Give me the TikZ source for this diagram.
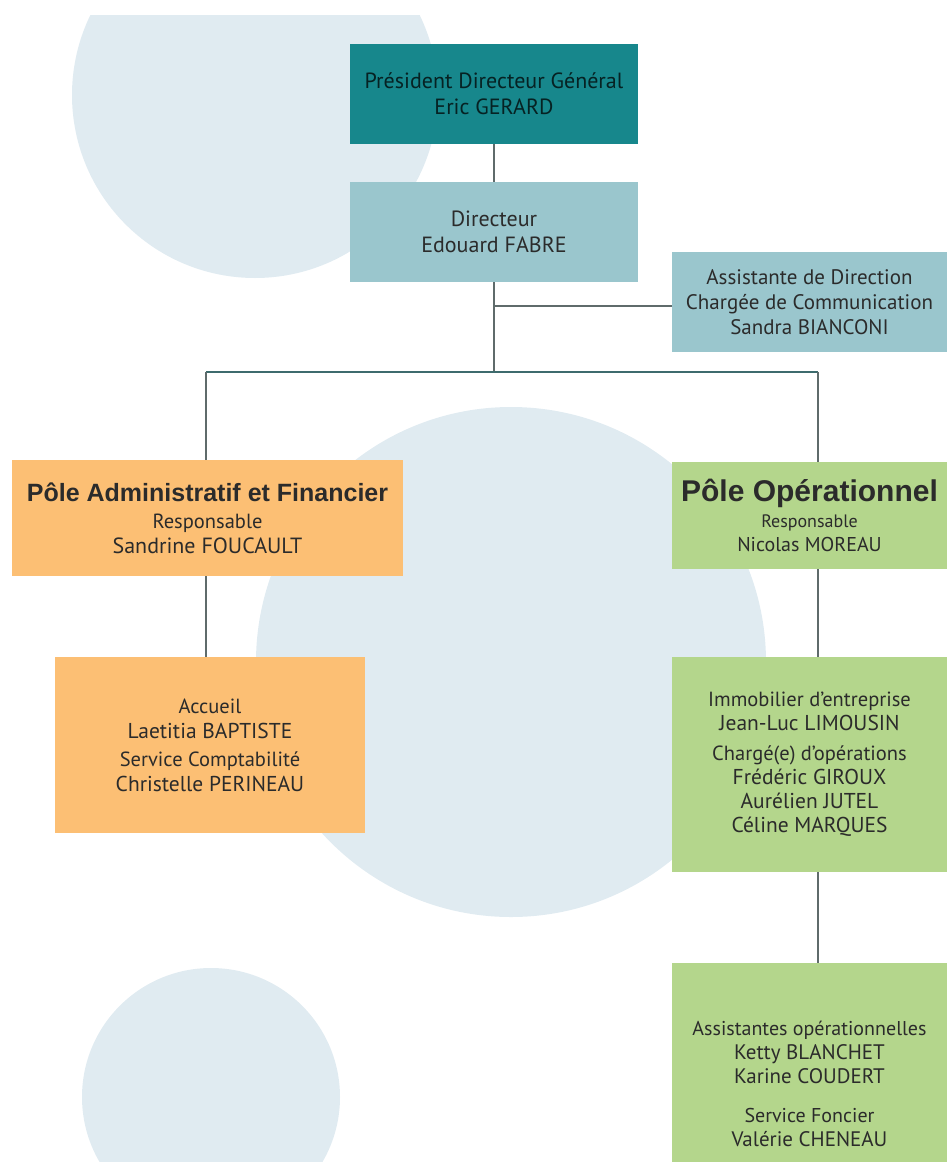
\documentclass[tikz,border=0pt]{standalone}
\usepackage{fontspec}
\setmainfont{PT Sans}
\newfontfamily\headfont{Liberation Sans}
\usepackage{xcolor}
\usetikzlibrary{positioning,calc}

\definecolor{pdgteal}{HTML}{17878C}
\definecolor{dirblue}{HTML}{9AC6CD}
\definecolor{admorange}{HTML}{FCBF74}
\definecolor{opgreen}{HTML}{B4D68C}
\definecolor{bgcircle}{HTML}{E0EBF1}
\definecolor{linkgray}{HTML}{5F6B6B}
\definecolor{bustteal}{HTML}{3D6B6D}
\definecolor{inktext}{HTML}{2B2B2B}

\newcommand{\fs}[2]{\fontsize{#1}{#2}\selectfont}

\begin{document}
\begin{tikzpicture}[
    x=1pt, y=-1pt,
    box/.style={inner sep=0pt, align=center, text=inktext,
        font=\fs{21}{25}},
    pdgbox/.style={box, fill=pdgteal, text=black!75!pdgteal,
        minimum width=288, minimum height=100, font=\fs{22}{26}},
    dirbox/.style={box, fill=dirblue, minimum height=100},
    admbox/.style={box, fill=admorange},
    opbox/.style={box, fill=opgreen, minimum width=275,
        font=\fs{20.5}{24}},
    link/.style={draw=linkgray, line width=1.3pt},
    pole/.style={font=\headfont\bfseries}
]
\useasboundingbox (0,0) rectangle (947,1162);

% background discs
\begin{scope}
    \clip (0,15) rectangle (947,1162);
    \fill[bgcircle] (255,95) circle (183);
    \fill[bgcircle] (511,662) circle (255);
    \fill[bgcircle] (211,1097) circle (129);
\end{scope}

% direction
\node[pdgbox] (pdg) at (494,94) {Président Directeur Général\\Eric GERARD};
\node[dirbox, minimum width=288, font=\fs{22}{26}] (dir) at (494,232)
    {Directeur\\Edouard FABRE};
\node[dirbox, minimum width=275] (asst) at (809.5,302)
    {Assistante de Direction\\Chargée de Communication\\Sandra BIANCONI};

% poles
\node[admbox, minimum width=391, minimum height=116] (adm) at (207.5,518)
    {{\headfont\bfseries\fs{25}{28}Pôle Administratif et Financier}\\[2pt]
     {\fs{20.5}{25}Responsable}\\{\fs{22}{25}Sandrine FOUCAULT}};
\node[opbox, minimum height=107] (op) at (809.5,515.5)
    {{\headfont\bfseries\fs{30}{30}Pôle Opérationnel}\\[2pt]
     {\fs{18}{25}Responsable}\\{\fs{20}{25}Nicolas MOREAU}};

% services
\node[admbox, minimum width=310, minimum height=176] (accueil) at (210,745)
    {{\fs{20.5}{24}Accueil}\\{\fs{21.5}{24}Laetitia BAPTISTE}\\[3pt]
     {\fs{20.5}{24}Service Comptabilité}\\{\fs{21.5}{24}Christelle PERINEAU}};
\node[opbox, minimum height=215] (immo) at (809.5,764.5)
    {Immobilier d'entreprise\\{\fs{21.5}{24}Jean-Luc LIMOUSIN}\\[6pt]
     Chargé(e) d'opérations\\{\fs{21.5}{24}Frédéric GIROUX}\\
     {\fs{21.5}{24}Aurélien JUTEL}\\{\fs{21.5}{24}Céline MARQUES}};
\node[opbox, minimum height=242, font=\fs{20}{24}] (assis) at (809.5,1084)
    {Assistantes opérationnelles\\{\fs{21}{24}Ketty BLANCHET}\\
     {\fs{21}{24}Karine COUDERT}\\[15pt]
     Service Foncier\\{\fs{21}{24}Valérie CHENEAU}};

% connectors
\coordinate (busL) at (206,372);
\coordinate (busR) at (818,372);
\coordinate (busM) at (dir.south |- busL);
\coordinate (tee) at (dir.south |- 0,306);

\draw[link] (pdg) -- (dir);
\draw[link] (dir.south) -- (busM);
\draw[link] (tee) -- (tee -| asst.west);
\draw[draw=bustteal, line width=1.3pt] (busL) -- (busR);
\draw[link] (busL) -- (busL |- adm.north);
\draw[link] (busR) -- (busR |- op.north);
\draw[link] (adm.south -| busL) -- (accueil.north -| busL);
\draw[link] (op.south -| busR) -- (immo.north -| busR);
\draw[link] (immo.south -| busR) -- (assis.north -| busR);
\end{tikzpicture}
\end{document}
